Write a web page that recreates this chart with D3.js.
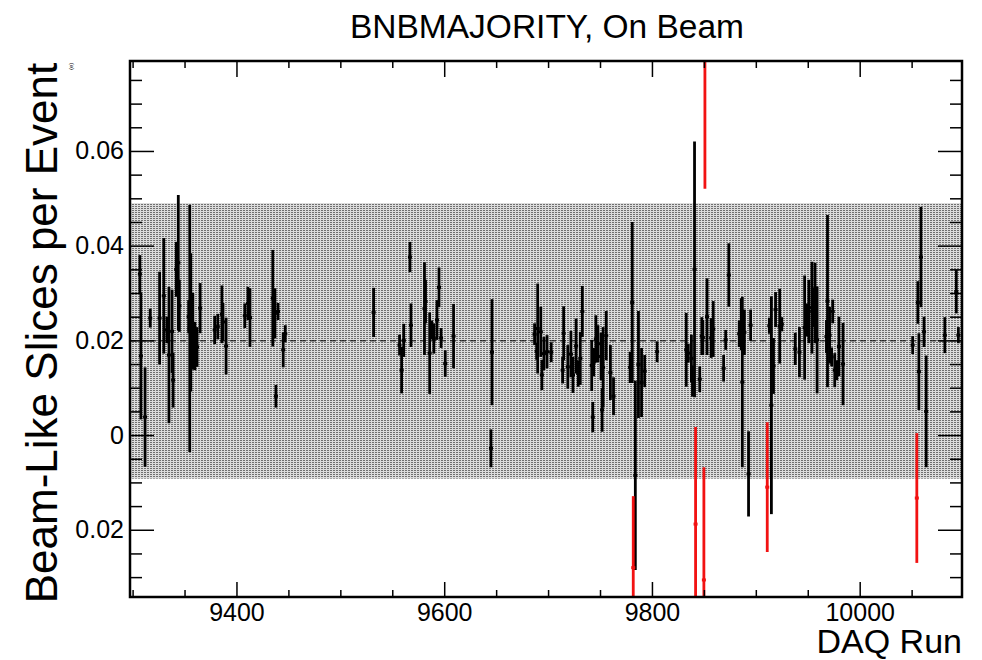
<!DOCTYPE html>
<meta charset="utf-8">
<style>
body { margin: 0; background: #fff; }
text { font-family: "Liberation Sans", Arial, Helvetica, sans-serif; }
.axis path.domain { display: none; }
.axis line { stroke: #000; stroke-width: 1.5px; }
.axis text { font-size: 25px; fill: #000; }
</style>
<svg width="982" height="660"></svg>
<script src="https://d3js.org/d3.v7.min.js"></script>
<script>
// run number, beam-like slices per event, error
var runs = [9307, 9308, 9312, 9317, 9326, 9330, 9333, 9335, 9338, 9339, 9342, 9344, 9345,
  9354, 9355, 9356, 9358, 9360, 9362, 9365, 9379, 9382, 9386, 9387, 9390, 9408, 9411, 9413,
  9435, 9437, 9438, 9440, 9445, 9447,
  9532, 9557, 9559, 9561, 9567, 9568, 9581, 9582, 9586, 9588, 9590, 9593, 9595, 9597, 9601, 9609,
  9645, 9646, 9687, 9689, 9690, 9693, 9694, 9696, 9699, 9703, 9714, 9715, 9719, 9722, 9724,
  9727, 9729, 9731, 9733, 9742, 9743, 9744, 9746, 9748, 9751, 9752, 9753, 9756, 9760, 9763, 9779,
  9781, 9782, 9784, 9787, 9790, 9793, 9805, 9833, 9835, 9838, 9839, 9841, 9842, 9846, 9848, 9849,
  9850, 9851, 9853, 9857, 9859, 9869, 9871, 9874, 9884, 9886, 9887, 9889, 9893, 9895,
  9911, 9913, 9915, 9917, 9919, 9923, 9925,
  9938, 9942, 9947, 9949, 9951, 9954, 9955, 9957, 9959, 9968, 9969, 9971, 9973, 9974, 9976, 9978,
  9980, 9984, 10051, 10055, 10056, 10057, 10059, 10062, 10064, 10082, 10093, 10095];
var slices = [0.0340, 0.0167, 0.0038, 0.0247, 0.0247, 0.0294, 0.0222, 0.0169, 0.0219, 0.0116, 0.0350, 0.0364, 0.0273,
  0.0250, 0.0225, 0.0238, 0.0219, 0.0188, 0.0186, 0.0268, 0.0222, 0.0229, 0.0255, 0.0239, 0.0188, 0.0252, 0.0278, 0.0248,
  0.0289, 0.0257, 0.0082, 0.0261, 0.0180, 0.0214,
  0.0259, 0.0190, 0.0137, 0.0200, 0.0376, 0.0232, 0.0267, 0.0282, 0.0173, 0.0222, 0.0204, 0.0243, 0.0312, 0.0205, 0.0151, 0.0209,
  -0.0028, 0.0175, 0.0213, 0.0177, 0.0225, 0.0218, 0.0127, 0.0172, 0.0176, 0.0175, 0.0137, 0.0215, 0.0144, 0.0171, 0.0127,
  0.0188, 0.0130, 0.0162, 0.0261, 0.0147, 0.0038, 0.0154, 0.0203, 0.0193, 0.0166, 0.0053, 0.0143, 0.0210, 0.0132, 0.0082, 0.0143,
  0.0280, -0.0280, -0.0085, 0.0149, 0.0111, 0.0135, 0.0176, 0.0180, 0.0173, 0.0162, 0.0114, 0.0350, -0.0188, 0.0118, 0.0209, 0.0206,
  -0.0306, 0.0850, 0.0250, 0.0205, 0.0224, 0.0141, 0.0201, 0.0338, 0.0214, 0.0234, 0.0112, 0.0217, -0.0082, 0.0232,
  -0.0110, 0.0231, 0.0063, 0.0146, 0.0265, 0.0230, 0.0234,
  0.0182, 0.0175, 0.0227, 0.0243, 0.0261, 0.0269, 0.0270, 0.0279, 0.0201, 0.0208, 0.0283, 0.0211, 0.0165, 0.0261, 0.0137, 0.0137,
  0.0187, 0.0150, 0.0190, -0.0133, 0.0280, 0.0134, 0.0376, 0.0218, 0.0050, 0.0211, 0.0303, 0.0211];
var errors = [0.0040, 0.0134, 0.0105, 0.0020, 0.0098, 0.0122, 0.0028, 0.0144, 0.0088, 0.0058, 0.0058, 0.0143, 0.0055,
  0.0035, 0.0261, 0.0146, 0.0081, 0.0051, 0.0042, 0.0053, 0.0030, 0.0027, 0.0061, 0.0040, 0.0060, 0.0026, 0.0035, 0.0062,
  0.0102, 0.0053, 0.0024, 0.0018, 0.0037, 0.0018,
  0.0052, 0.0022, 0.0049, 0.0035, 0.0032, 0.0046, 0.0098, 0.0046, 0.0086, 0.0020, 0.0032, 0.0042, 0.0042, 0.0021, 0.0028, 0.0068,
  0.0040, 0.0112, 0.0023, 0.0018, 0.0095, 0.0053, 0.0032, 0.0035, 0.0035, 0.0021, 0.0028, 0.0057, 0.0046, 0.0049, 0.0038,
  0.0058, 0.0028, 0.0056, 0.0054, 0.0054, 0.0032, 0.0030, 0.0050, 0.0039, 0.0050, 0.0046, 0.0085, 0.0052, 0.0058, 0.0040, 0.0033,
  0.0170, 0.0151, 0.0200, 0.0113, 0.0073, 0.0034, 0.0022, 0.0078, 0.0020, 0.0050, 0.0033, 0.0270, 0.0205, 0.0027, 0.0040, 0.0037,
  0.0238, 0.0330, 0.0081, 0.0042, 0.0059, 0.0028, 0.0021, 0.0067, 0.0028, 0.0055, 0.0180, 0.0048, 0.0090, 0.0033,
  0.0137, 0.0017, 0.0230, 0.0059, 0.0037, 0.0079, 0.0015,
  0.0034, 0.0053, 0.0110, 0.0035, 0.0067, 0.0097, 0.0042, 0.0085, 0.0113, 0.0035, 0.0182, 0.0060, 0.0020, 0.0025, 0.0036, 0.0021,
  0.0063, 0.0087, 0.0019, 0.0137, 0.0045, 0.0081, 0.0106, 0.0032, 0.0118, 0.0038, 0.0046, 0.0017];

var meanValue = 0.0199;
var bandHalf = 0.0291;
var yTickLabels = [-0.02, 0, 0.02, 0.04, 0.06];
var xTickLabels = [9400, 9600, 9800, 10000];

var svg = d3.select("svg");
var padL = 130, padR = 962, padT = 61, padB = 597;

var x = d3.scaleLinear().domain([9297.5, 10098.5]).range([padL, padR]);
var y = d3.scaleLinear().domain([-0.0342, 0.079]).range([padB, padT]);

var defs = svg.append("defs");
var pat = defs.append("pattern").attr("id", "dots")
  .attr("width", 3).attr("height", 2).attr("patternUnits", "userSpaceOnUse");
pat.append("rect").attr("width", 3).attr("height", 2).attr("fill", "#dcdcdc");
pat.append("rect").attr("width", 2).attr("height", 1).attr("fill", "#707070");
defs.append("clipPath").attr("id", "frame")
  .append("rect").attr("x", padL).attr("y", padT).attr("width", padR - padL).attr("height", padB - padT);

var plot = svg.append("g").attr("clip-path", "url(#frame)");

// 1 sigma band and mean
plot.append("rect")
  .attr("x", padL).attr("width", padR - padL)
  .attr("y", y(meanValue + bandHalf))
  .attr("height", y(meanValue - bandHalf) - y(meanValue + bandHalf))
  .attr("fill", "url(#dots)");
plot.append("line")
  .attr("x1", padL).attr("x2", padR)
  .attr("y1", y(meanValue)).attr("y2", y(meanValue))
  .attr("stroke", "#000").attr("stroke-width", 1)
  .attr("stroke-dasharray", "6,4");

var points = runs.map(function(r, i) {
  return { run: r, v: slices[i], e: errors[i],
    out: slices[i] > meanValue + bandHalf || slices[i] < meanValue - bandHalf };
});
// black first, red on top
points.sort(function(a, b) { return a.out - b.out; });

var pt = plot.selectAll("g.pt").data(points).enter().append("g").attr("class", "pt");
pt.append("line")
  .attr("x1", function(d) { return x(d.run); })
  .attr("x2", function(d) { return x(d.run); })
  .attr("y1", function(d) { return y(d.v + d.e); })
  .attr("y2", function(d) { return y(d.v - d.e); })
  .attr("stroke", function(d) { return d.out ? "#f21212" : "#000"; })
  .attr("stroke-width", 2.8);
pt.append("rect")
  .attr("x", function(d) { return x(d.run) - 2; })
  .attr("y", function(d) { return y(d.v) - 1.5; })
  .attr("width", 4).attr("height", 3)
  .attr("fill", function(d) { return d.out ? "#f21212" : "#000"; });

// axes: ticks inside on all four sides
var xMinor = d3.range(9300, 10100, 50).filter(function(v) { return xTickLabels.indexOf(v) < 0; });
var yMinor = d3.range(-30, 80, 5).map(function(v) { return v / 1000; })
  .filter(function(v) { return !yTickLabels.some(function(t) { return Math.abs(t - v) < 1e-9; }); });

svg.append("g").attr("class", "axis").attr("transform", "translate(0," + padB + ")")
  .call(d3.axisBottom(x).tickValues(xMinor).tickSize(-7).tickFormat(""));
svg.append("g").attr("class", "axis").attr("transform", "translate(0," + padB + ")")
  .call(d3.axisBottom(x).tickValues(xTickLabels).tickSize(-15).tickPadding(6).tickFormat(d3.format("d")));
svg.append("g").attr("class", "axis").attr("transform", "translate(0," + padT + ")")
  .call(d3.axisTop(x).tickValues(xMinor).tickSize(-7).tickFormat(""));
svg.append("g").attr("class", "axis").attr("transform", "translate(0," + padT + ")")
  .call(d3.axisTop(x).tickValues(xTickLabels).tickSize(-16).tickFormat(""));

svg.append("g").attr("class", "axis").attr("transform", "translate(" + padL + ",0)")
  .call(d3.axisLeft(y).tickValues(yMinor).tickSize(-12).tickFormat(""));
svg.append("g").attr("class", "axis").attr("transform", "translate(" + padL + ",0)")
  .call(d3.axisLeft(y).tickValues(yTickLabels).tickSize(-24).tickPadding(6)
    .tickFormat(function(d) { return d === 0 ? "0" : Math.abs(d).toFixed(2); }));
svg.append("g").attr("class", "axis").attr("transform", "translate(" + padR + ",0)")
  .call(d3.axisRight(y).tickValues(yMinor).tickSize(-12).tickFormat(""));
svg.append("g").attr("class", "axis").attr("transform", "translate(" + padR + ",0)")
  .call(d3.axisRight(y).tickValues(yTickLabels).tickSize(-24).tickFormat(""));

svg.append("rect")
  .attr("x", padL).attr("y", padT).attr("width", padR - padL).attr("height", padB - padT)
  .attr("fill", "none").attr("stroke", "#000").attr("stroke-width", 2.5);

// titles
svg.append("text").attr("x", 547).attr("y", 38)
  .attr("text-anchor", "middle").attr("font-size", 33.5)
  .text("BNBMAJORITY, On Beam");
svg.append("text").attr("x", padR).attr("y", 653)
  .attr("text-anchor", "end").attr("font-size", 34)
  .text("DAQ Run");
svg.append("text")
  .attr("transform", "translate(57,333) rotate(-90)")
  .attr("text-anchor", "middle").attr("font-size", 44)
  .text("Beam-Like Slices per Event");
svg.append("text")
  .attr("transform", "translate(73,70) rotate(-90)")
  .attr("font-size", 6)
  .text("(e)");
</script>
